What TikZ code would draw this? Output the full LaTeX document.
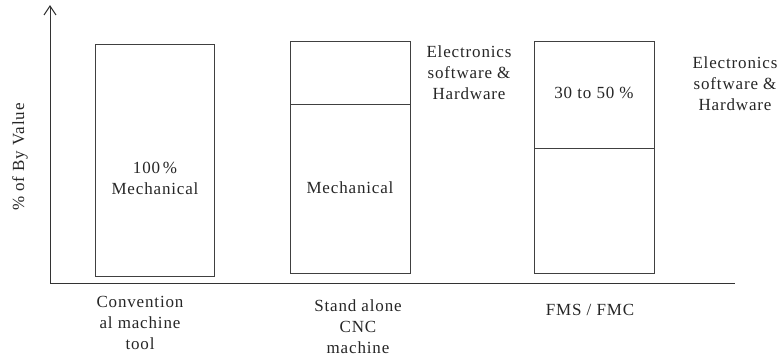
\documentclass[tikz,border=0pt]{standalone}
\usepackage{fontspec}
\setmainfont{Liberation Serif}[LetterSpace=5]
\begin{document}
\begin{tikzpicture}[x=1pt,y=-1pt,
  bar/.style={draw=black!75,line width=1pt},
  lbl/.style={font=\fontsize{17}{21}\selectfont,align=center,inner sep=0pt,text=black!85},
  axis/.style={draw=black!80,line width=1pt}]
\useasboundingbox (0,0) rectangle (781,358);
\coordinate (O) at (50,283);
\coordinate (ytop) at (50,6);
\coordinate (xend) at (735,283);
\draw[axis] (O) -- (ytop);
\draw[axis] (44,15) -- (ytop) -- (56,15);
\draw[axis] (O) -- (xend);
% boxes
\node[bar,minimum width=119pt,minimum height=231pt,inner sep=0pt] (b1) at (155,160.5) {};
\node[bar,minimum width=120pt,minimum height=231pt,inner sep=0pt] (b2) at (350,157.5) {};
\node[bar,minimum width=120pt,minimum height=231pt,inner sep=0pt] (b3) at (594,157.5) {};
\coordinate (d2l) at (290,105); \coordinate (d2r) at (410,105);
\draw[bar] (d2l) -- (d2r);
\coordinate (d3l) at (534,149); \coordinate (d3r) at (654,149);
\draw[bar] (d3l) -- (d3r);
% texts
\node[lbl] (t1) at (155,178) {100\,\%\\Mechanical};
\node[lbl] (t2) at (350,188) {Mechanical};
\node[lbl] (t3) at (594,93) {30 to 50 \%};
\node[lbl] (e2) at (469,73) {Electronics\\software \&\\Hardware};
\node[lbl] (e3) at (735,84) {Electronics\\software \&\\Hardware};
\node[lbl,rotate=90] (ya) at (20,157) {\% of By Value};
\node[lbl] (x1) at (140,323) {Convention\\al machine\\tool};
\node[lbl] (x2) at (358,327) {Stand alone\\CNC\\machine};
\node[lbl] (x3) at (590,310) {FMS / FMC};
\end{tikzpicture}
\end{document}
